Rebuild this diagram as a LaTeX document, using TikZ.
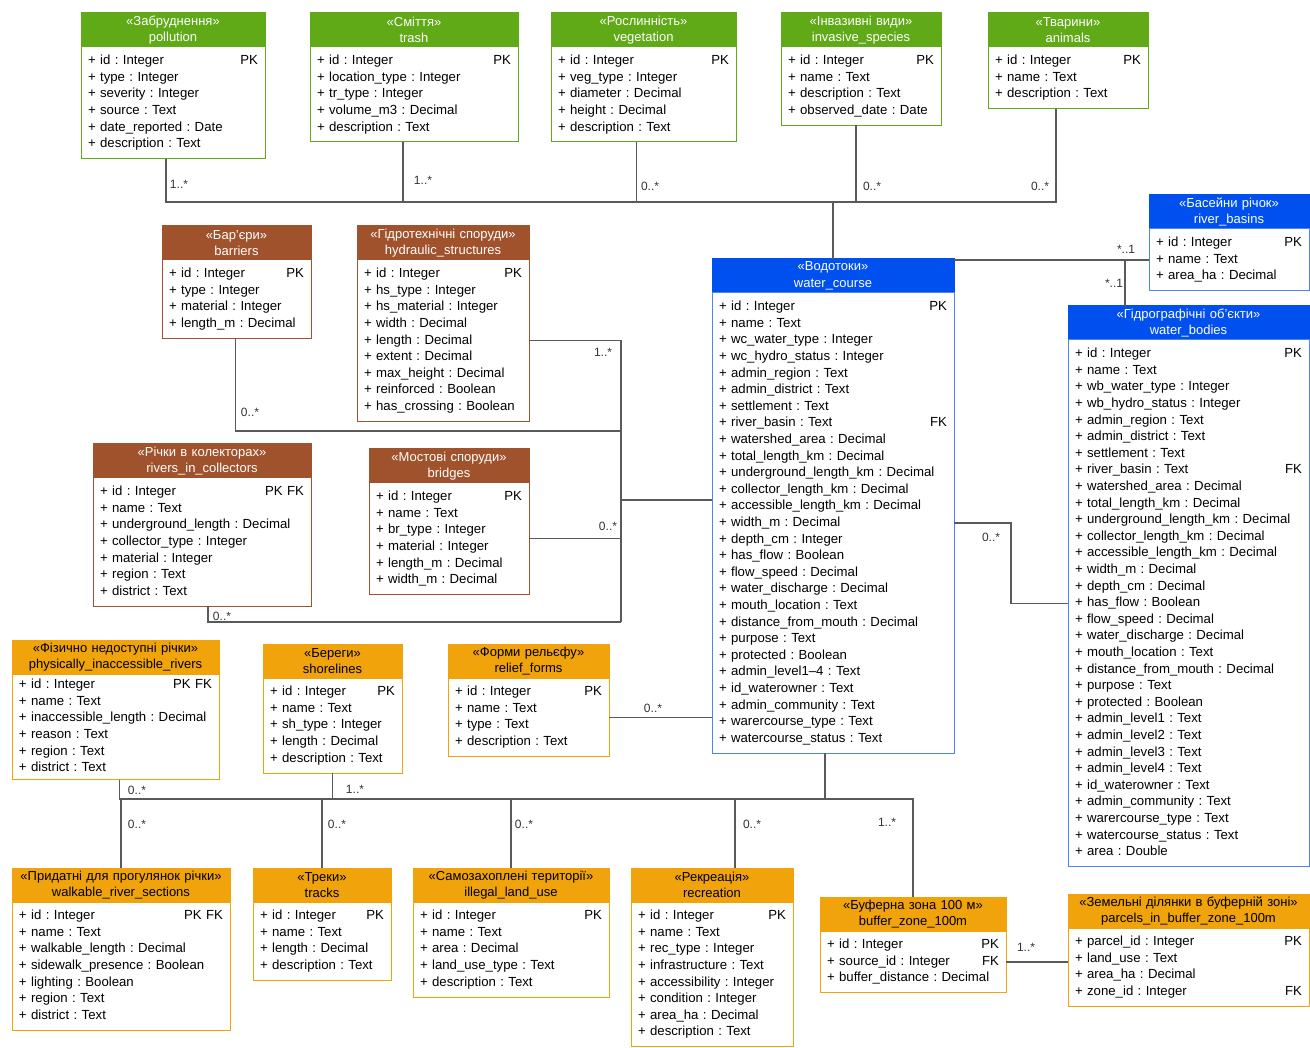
\documentclass[tikz,border=0pt]{standalone}
\usepackage{fontspec}
\setmainfont{Liberation Sans}
\usetikzlibrary{calc}
\definecolor{grn}{HTML}{60A917}
\definecolor{brn}{HTML}{A0522D}
\definecolor{org}{HTML}{F0A30A}
\definecolor{blu}{HTML}{0050EF}
\definecolor{lnk}{HTML}{5A5A5A}
\newcommand{\pk}{\hfill PK}
\newcommand{\fk}{\hfill FK}
\newcommand{\pkfk}{\hfill PK FK}
\frenchspacing
\begin{document}
\begin{tikzpicture}[x=1pt,y=-1pt,
  hdr/.style={draw,anchor=north west,outer sep=0pt,inner xsep=1pt,inner ysep=0pt,minimum height=34pt,align=center,line width=1pt,font=\fontsize{13}{16.6}\selectfont},
  bdy/.style={draw,fill=white,anchor=north west,outer sep=0pt,inner xsep=7pt,inner ysep=6pt,align=left,line width=1pt,font=\fontsize{13.2}{16.6}\selectfont,execute at begin node=\strut,execute at end node=\strut},
  gh/.style={hdr,fill=grn,draw=grn,text=white}, gb/.style={bdy,draw=grn},
  rh/.style={hdr,fill=brn,draw=brn,text=white}, rb/.style={bdy,draw=brn},
  oh/.style={hdr,fill=org,draw=org,text=black}, ob/.style={bdy,draw=org},
  bh/.style={hdr,fill=blu,draw=blu,text=white}, bb/.style={bdy,draw=blu!70},
  conn/.style={draw=lnk,line width=1.3pt},
  mult/.style={inner sep=1pt,text=black!80,font=\fontsize{12}{13}\selectfont}]
  \fill[white] (0,0) rectangle (1310,1048);
  \useasboundingbox (0,0) rectangle (1310,1048);
  % top row
  \node at (81,13)[gh,text width=182pt] (pol){«Забруднення»\\pollution};
  \node at (pol.south west)[gb,text width=170pt] (pol-b){+ id : Integer\pk\\+ type : Integer\\+ severity : Integer\\+ source : Text\\+ date\_reported : Date\\+ description : Text};
  \node at (310,13)[gh,text width=206pt] (tr){«Сміття»\\trash};
  \node at (tr.south west)[gb,text width=194pt] (tr-b){+ id : Integer\pk\\+ location\_type : Integer\\+ tr\_type : Integer\\+ volume\_m3 : Decimal\\+ description : Text};
  \node at (551,13)[gh,text width=183pt] (veg){«Рослинність»\\vegetation};
  \node at (veg.south west)[gb,text width=171pt] (veg-b){+ id : Integer\pk\\+ veg\_type : Integer\\+ diameter : Decimal\\+ height : Decimal\\+ description : Text};
  \node at (781,13)[gh,text width=158pt] (inv){«Інвазивні види»\\invasive\_species};
  \node at (inv.south west)[gb,text width=146pt] (inv-b){+ id : Integer\pk\\+ name : Text\\+ description : Text\\+ observed\_date : Date};
  \node at (988,13)[gh,text width=158pt] (ani){«Тварини»\\animals};
  \node at (ani.south west)[gb,text width=146pt] (ani-b){+ id : Integer\pk\\+ name : Text\\+ description : Text};
  % structures
  \node at (162,226)[rh,text width=147pt] (bar){«Бар’єри»\\barriers};
  \node at (bar.south west)[rb,text width=135pt] (bar-b){+ id : Integer\pk\\+ type : Integer\\+ material : Integer\\+ length\_m : Decimal};
  \node at (357,226)[rh,text width=170pt] (hs){«Гідротехнічні споруди»\\hydraulic\_structures};
  \node at (hs.south west)[rb,text width=158pt] (hs-b){+ id : Integer\pk\\+ hs\_type : Integer\\+ hs\_material : Integer\\+ width : Decimal\\+ length : Decimal\\+ extent : Decimal\\+ max\_height : Decimal\\+ reinforced : Boolean\\+ has\_crossing : Boolean};
  \node at (93,444)[rh,text width=216pt] (ric){«Річки в колекторах»\\rivers\_in\_collectors};
  \node at (ric.south west)[rb,text width=204pt] (ric-b){+ id : Integer\pkfk\\+ name : Text\\+ underground\_length : Decimal\\+ collector\_type : Integer\\+ material : Integer\\+ region : Text\\+ district : Text};
  \node at (369,449)[rh,text width=158pt] (br){«Мостові споруди»\\bridges};
  \node at (br.south west)[rb,text width=146pt] (br-b){+ id : Integer\pk\\+ name : Text\\+ br\_type : Integer\\+ material : Integer\\+ length\_m : Decimal\\+ width\_m : Decimal};
  % water objects
  \node at (712,259)[bh,text width=240pt] (wc){«Водотоки»\\water\_course};
  \node at (wc.south west)[bb,text width=228pt] (wc-b){+ id : Integer\pk\\+ name : Text\\+ wc\_water\_type : Integer\\+ wc\_hydro\_status : Integer\\+ admin\_region : Text\\+ admin\_district : Text\\+ settlement : Text\\+ river\_basin : Text\fk\\+ watershed\_area : Decimal\\+ total\_length\_km : Decimal\\+ underground\_length\_km : Decimal\\+ collector\_length\_km : Decimal\\+ accessible\_length\_km : Decimal\\+ width\_m : Decimal\\+ depth\_cm : Integer\\+ has\_flow : Boolean\\+ flow\_speed : Decimal\\+ water\_discharge : Decimal\\+ mouth\_location : Text\\+ distance\_from\_mouth : Decimal\\+ purpose : Text\\+ protected : Boolean\\+ admin\_level1–4 : Text\\+ id\_waterowner : Text\\+ admin\_community : Text\\+ warercourse\_type : Text\\+ watercourse\_status : Text};
  \node at (1149,195)[bh,text width=158pt] (rbs){«Басейни річок»\\river\_basins};
  \node at (rbs.south west)[bb,text width=146pt] (rbs-b){+ id : Integer\pk\\+ name : Text\\+ area\_ha : Decimal};
  \node at (1068,306)[bh,text width=239pt] (wb){«Гідрографічні об’єкти»\\water\_bodies};
  \node at (wb.south west)[bb,text width=227pt] (wb-b){+ id : Integer\pk\\+ name : Text\\+ wb\_water\_type : Integer\\+ wb\_hydro\_status : Integer\\+ admin\_region : Text\\+ admin\_district : Text\\+ settlement : Text\\+ river\_basin : Text\fk\\+ watershed\_area : Decimal\\+ total\_length\_km : Decimal\\+ underground\_length\_km : Decimal\\+ collector\_length\_km : Decimal\\+ accessible\_length\_km : Decimal\\+ width\_m : Decimal\\+ depth\_cm : Decimal\\+ has\_flow : Boolean\\+ flow\_speed : Decimal\\+ water\_discharge : Decimal\\+ mouth\_location : Text\\+ distance\_from\_mouth : Decimal\\+ purpose : Text\\+ protected : Boolean\\+ admin\_level1 : Text\\+ admin\_level2 : Text\\+ admin\_level3 : Text\\+ admin\_level4 : Text\\+ id\_waterowner : Text\\+ admin\_community : Text\\+ warercourse\_type : Text\\+ watercourse\_status : Text\\+ area : Double};
  % land use
  \node at (12,640)[oh,text width=205pt] (pir){«Фізично недоступні річки»\\physically\_inaccessible\_rivers};
  \node at (pir.south west)[ob,text width=193pt,inner ysep=3pt] (pir-b){+ id : Integer\pkfk\\+ name : Text\\+ inaccessible\_length : Decimal\\+ reason : Text\\+ region : Text\\+ district : Text};
  \node at (263,644)[oh,text width=137pt] (sh){«Береги»\\shorelines};
  \node at (sh.south west)[ob,text width=125pt] (sh-b){+ id : Integer\pk\\+ name : Text\\+ sh\_type : Integer\\+ length : Decimal\\+ description : Text};
  \node at (448,644)[oh,text width=159pt] (rf){«Форми рельєфу»\\relief\_forms};
  \node at (rf.south west)[ob,text width=147pt] (rf-b){+ id : Integer\pk\\+ name : Text\\+ type : Text\\+ description : Text};
  \node at (12,868)[oh,text width=216pt] (wrs){«Придатні для прогулянок річки»\\walkable\_river\_sections};
  \node at (wrs.south west)[ob,text width=204pt] (wrs-b){+ id : Integer\pkfk\\+ name : Text\\+ walkable\_length : Decimal\\+ sidewalk\_presence : Boolean\\+ lighting : Boolean\\+ region : Text\\+ district : Text};
  \node at (253,868)[oh,text width=136pt] (trk){«Треки»\\tracks};
  \node at (trk.south west)[ob,text width=124pt] (trk-b){+ id : Integer\pk\\+ name : Text\\+ length : Decimal\\+ description : Text};
  \node at (413,868)[oh,text width=194pt] (ilu){«Самозахоплені території»\\illegal\_land\_use};
  \node at (ilu.south west)[ob,text width=182pt] (ilu-b){+ id : Integer\pk\\+ name : Text\\+ area : Decimal\\+ land\_use\_type : Text\\+ description : Text};
  \node at (631,868)[oh,text width=160pt] (rec){«Рекреація»\\recreation};
  \node at (rec.south west)[ob,text width=148pt] (rec-b){+ id : Integer\pk\\+ name : Text\\+ rec\_type : Integer\\+ infrastructure : Text\\+ accessibility : Integer\\+ condition : Integer\\+ area\_ha : Decimal\\+ description : Text};
  \node at (820,897)[oh,text width=184pt] (bz){«Буферна зона 100 м»\\buffer\_zone\_100m};
  \node at (bz.south west)[ob,text width=172pt] (bz-b){+ id : Integer\pk\\+ source\_id : Integer\fk\\+ buffer\_distance : Decimal};
  \node at (1068,894)[oh,text width=239pt] (pz){«Земельні ділянки в буферній зоні»\\parcels\_in\_buffer\_zone\_100m};
  \node at (pz.south west)[ob,text width=227pt] (pz-b){+ parcel\_id : Integer\pk\\+ land\_use : Text\\+ area\_ha : Decimal\\+ zone\_id : Integer\fk};
  % links to the top row
  \coordinate (gbus) at (833,202);
  \draw[conn] ([xshift=-7pt]pol-b.south) |- (gbus) -- (wc.north);
  \draw[conn] ([xshift=-12pt]ani-b.south) |- (gbus);
  \draw[conn] ([xshift=-11pt]tr-b.south) |- (gbus);
  \draw[conn] ([xshift=-7pt]veg-b.south) |- (gbus);
  \draw[conn] ([xshift=-5pt]inv-b.south) |- (gbus);
  \node[mult] (m-pol) at (179,184) {1..*};
  \node[mult] (m-tr) at (423,180) {1..*};
  \node[mult] (m-veg) at (650,186) {0..*};
  \node[mult] (m-inv) at (872,186) {0..*};
  \node[mult] (m-ani) at (1040,186) {0..*};
  % links to the structures
  \coordinate (bcor) at (621,622);
  \coordinate (bbar) at (621,431);
  \coordinate (bwc) at (621,500);
  \draw[conn] (hs-b.east) -| (bcor);
  \draw[conn] ([xshift=6pt]ric-b.south) |- (bcor);
  \draw[conn] ([xshift=-1pt]bar-b.south) |- (bbar);
  \draw[conn] (br-b.east) -- (br-b.east -| bcor);
  \draw[conn] (bwc) -- (bwc -| wc-b.west);
  \node[mult] (m-hs) at (603,352) {1..*};
  \node[mult] (m-bar) at (250,412) {0..*};
  \node[mult] (m-br) at (608,526) {0..*};
  \node[mult] (m-ric) at (222,616) {0..*};
  % links between water objects
  \draw[conn] (rf-b.east) -- (rf-b.east -| wc-b.west);
  \draw[conn] (wc-b.east) -- ++(57,0) |- (wb-b.west);
  \draw[conn] (rbs-b.west) -- (rbs-b.west -| wc.north east);
  \path (rbs-b.west) ++(-24,0) coordinate (rbj);
  \draw[conn] (rbj) -- (rbj |- wb.north);
  \node[mult] (m-rf) at (653,708) {0..*};
  \node[mult] (m-wb) at (991,537) {0..*};
  \node[mult] (m-rb1) at (1126,249) {*..1};
  \node[mult] (m-rb2) at (1114,283) {*..1};
  % links to land use
  \coordinate (obus) at (825,799);
  \draw[conn] ([xshift=-8pt]wc-b.south) -- (obus);
  \draw[conn] ([xshift=4pt]pir-b.south) |- (obus) -| (bz.north);
  \draw[conn] (sh-b.south) |- (obus);
  \draw[conn] (wrs.north) |- (obus);
  \draw[conn] (trk.north) |- (obus);
  \draw[conn] (ilu.north) |- (obus);
  \draw[conn] ([xshift=23pt]rec.north) |- (obus);
  \draw[conn] (bz-b.east) -- (bz-b.east -| pz-b.west);
  \node[mult] (m-pir) at (137,790) {0..*};
  \node[mult] (m-sh) at (355,789) {1..*};
  \node[mult] (m-wrs) at (137,824) {0..*};
  \node[mult] (m-trk) at (337,824) {0..*};
  \node[mult] (m-ilu) at (524,824) {0..*};
  \node[mult] (m-rec) at (752,824) {0..*};
  \node[mult] (m-bz) at (887,822) {1..*};
  \node[mult] (m-pz) at (1026,947) {1..*};
\end{tikzpicture}
\end{document}
